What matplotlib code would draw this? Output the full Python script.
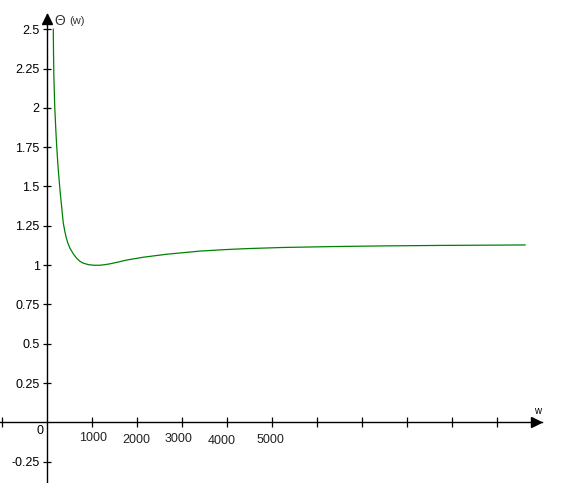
import matplotlib
matplotlib.use('Agg')
from matplotlib import pyplot as plt

plt.rcParams['font.family'] = ['Liberation Sans', 'DejaVu Sans']

# curve
w = [147, 152, 160, 170, 180, 192, 205, 222, 240, 258, 277, 296, 315, 333, 350, 370,
     400, 429, 470, 518, 590, 667, 740, 815, 925, 1050, 1185, 1300, 1407, 1600, 1778,
     2148, 2667, 2963, 3407, 4000, 4474, 5252, 6407, 7500, 8718, 10630]
theta = [2.50, 2.35, 2.20, 2.10, 2.00, 1.93, 1.85, 1.76, 1.68, 1.605, 1.54, 1.478, 1.42,
         1.372, 1.32, 1.266, 1.22, 1.181, 1.14, 1.107, 1.072, 1.043, 1.024, 1.012, 1.003,
         0.999, 0.999, 1.003, 1.008, 1.020, 1.032, 1.050, 1.069, 1.077, 1.089, 1.099,
         1.105, 1.112, 1.118, 1.122, 1.125, 1.128]

x_ticks = [-1000, 1000, 2000, 3000, 4000, 5000, 6000, 7000, 8000, 9000, 10000]
x_labels = ['1000', '2000', '3000', '4000', '5000']
x_label_pos = [1000, 2000, 3000, 4000, 5000]
# label offsets (pixels) - the labels are a bit uneven in the original
x_label_off = [(1, -15.5), (0, -17.5), (-3, -16.5), (-4.5, -19), (-1.5, -18)]
y_ticks = [-0.25, 0.25, 0.5, 0.75, 1, 1.25, 1.5, 1.75, 2, 2.25, 2.5]
y_labels = ['-0.25', '0.25', '0.5', '0.75', '1', '1.25', '1.5', '1.75', '2', '2.25', '2.5']

fig = plt.figure(figsize=(5.68, 4.83), dpi=100)
ax = fig.add_axes([0, 0, 1, 1])
ax.set_xlim(-1037, 11584)
ax.set_ylim(-0.386, 2.686)

ax.plot(w, theta, color='#008000', linewidth=0.9)

# axes through the origin
for s in ['top', 'right']:
    ax.spines[s].set_visible(False)
ax.spines['bottom'].set_position(('data', 0))
ax.spines['left'].set_position(('data', 0))
ax.spines['bottom'].set_bounds(-1037, 11000)
ax.spines['left'].set_bounds(-0.386, 2.597)
ax.spines['bottom'].set_linewidth(1.0)
ax.spines['left'].set_linewidth(1.0)

# arrow heads
ax.plot([10880], [0], marker='>', color='black', markersize=7.5, clip_on=False)
ax.plot([0], [2.567], marker='^', color='black', markersize=6.5, clip_on=False)

ax.set_xticks(x_ticks)
ax.set_xticklabels([])
ax.tick_params(axis='x', direction='inout', length=7, width=0.9)
ax.set_yticks(y_ticks)
ax.set_yticklabels(y_labels, fontsize=9)
ax.tick_params(axis='y', direction='inout', length=6, width=0.9, pad=2)

for lab, pos, off in zip(x_labels, x_label_pos, x_label_off):
    ax.annotate(lab, xy=(pos, 0), xytext=off, textcoords='offset pixels',
                ha='center', va='center', fontsize=9, color='#222222')

ax.annotate('0', xy=(0, 0), xytext=(-3, -3), textcoords='offset pixels',
            ha='right', va='top', fontsize=9)
ax.annotate('\u0398', xy=(0, 2.597), xytext=(8, 0), textcoords='offset pixels',
            ha='left', va='top', fontsize=10, color='#333333')
ax.annotate('(w)', xy=(0, 2.597), xytext=(23, -2), textcoords='offset pixels',
            ha='left', va='top', fontsize=8, color='#333333')
ax.annotate('w', xy=(11000, 0), xytext=(-4, 6), textcoords='offset pixels',
            ha='center', va='bottom', fontsize=7)

plt.savefig('out.png', dpi=100)
